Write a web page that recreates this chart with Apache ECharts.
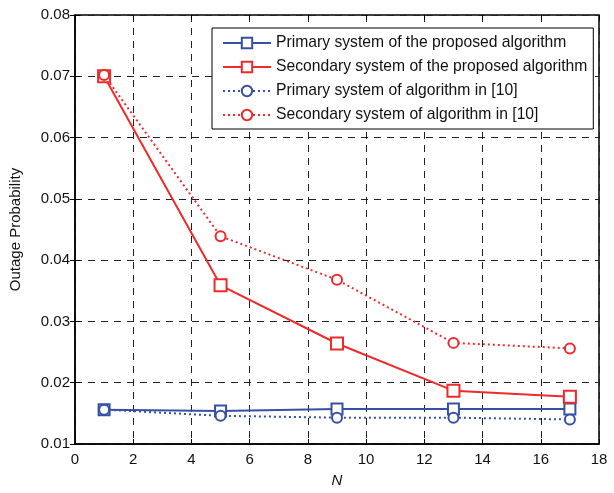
<!DOCTYPE html>
<html><head><meta charset="utf-8">
<script src="https://cdn.jsdelivr.net/npm/echarts@6/dist/echarts.min.js"></script>
<style>html,body{margin:0;padding:0;background:#fff}#c{width:614px;height:493px}</style>
</head><body><div id="c"></div>
<script>
const N = [1, 5, 9, 13, 17];
const primaryProposed = [0.0156, 0.0154, 0.0157, 0.0157, 0.0157];
const secondaryProposed = [0.0700, 0.0359, 0.0264, 0.0187, 0.0177];
const primaryRef = [0.0156, 0.0146, 0.0143, 0.0143, 0.0140];
const secondaryRef = [0.0702, 0.0439, 0.0368, 0.0265, 0.0256];
const seriesNames = ['Primary system of the proposed algorithm','Secondary system of the proposed algorithm','Primary system of algorithm in [10]','Secondary system of algorithm in [10]'];
const BLUE = '#3651a3', RED = '#ee2a2a';
const font = '"Liberation Sans", Arial, sans-serif';
function pairs(v){ return N.map((n,i)=>[n, v[i]]); }
function mk(name, data, color, dotted, symbol, size){
  return {name, type:'line', data: pairs(data), symbol, symbolSize:size,
    lineStyle:{color, width:2, type: dotted ? [2,3] : 'solid'},
    itemStyle:{color:'#fff', borderColor:color, borderWidth:2},
    color, z: 5};
}
const chart = echarts.init(document.getElementById('c'));
const gridLine = {show:true, lineStyle:{color:'#222', width:1, type:[7,6]}};
chart.setOption({
  animation:false,
  grid:{left:73, right:15, top:15, bottom:43, show:true, borderColor:'#000', borderWidth:1.5},
  legend:{top:28, left:212, orient:'vertical', itemWidth:48, itemHeight:13, itemGap:8,
    backgroundColor:'#fff', borderColor:'#000', borderWidth:1, padding:[7,6,6,10],
    textStyle:{fontFamily:font, fontSize:15.7, color:'#111'}, data:seriesNames},
  xAxis:[{type:'value', min:0, max:18, interval:2, name:'N', nameLocation:'middle', nameGap:29,
    nameTextStyle:{fontFamily:font, fontSize:15, fontStyle:'italic', color:'#111'},
    axisLine:{lineStyle:{color:'#000', width:1.5}}, axisTick:{inside:true, length:5, lineStyle:{color:'#000'}},
    axisLabel:{fontFamily:font, fontSize:15, color:'#111', margin:8}, splitLine:gridLine},
    {type:'value', position:'top', min:0, max:18, interval:2, axisLine:{show:false},
    axisTick:{inside:true, length:5, lineStyle:{color:'#000'}}, axisLabel:{show:false}, splitLine:{show:false}}],
  yAxis:[{type:'value', min:0.01, max:0.08, interval:0.01, name:'Outage Probability', nameLocation:'middle', nameGap:52,
    nameTextStyle:{fontFamily:font, fontSize:15, color:'#111'},
    axisLine:{lineStyle:{color:'#000', width:1.5}}, axisTick:{inside:true, length:5, lineStyle:{color:'#000'}},
    axisLabel:{fontFamily:font, fontSize:15, color:'#111', margin:5, formatter:v=>v.toFixed(2)}, splitLine:gridLine},
    {type:'value', position:'right', min:0.01, max:0.08, interval:0.01, axisLine:{show:false},
    axisTick:{inside:true, length:5, lineStyle:{color:'#000'}}, axisLabel:{show:false}, splitLine:{show:false}}],
  series:[
    mk(seriesNames[0], primaryProposed, BLUE, false, 'rect', 11),
    mk(seriesNames[1], secondaryProposed, RED, false, 'rect', 12),
    mk(seriesNames[2], primaryRef, BLUE, true, 'circle', 10),
    mk(seriesNames[3], secondaryRef, RED, true, 'circle', 10)
  ]
});
</script></body></html>
